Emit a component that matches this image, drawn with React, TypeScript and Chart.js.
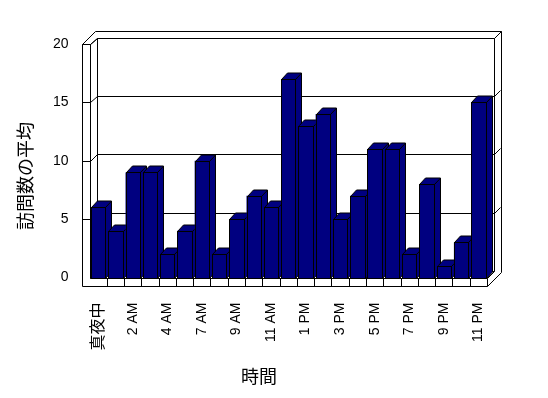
import React, { useEffect, useRef } from "react";
import { Chart, registerables } from "chart.js";

Chart.register(...registerables);

const categories = [
  "真夜中", "1 AM", "2 AM", "3 AM", "4 AM", "5 AM", "7 AM", "8 AM", "9 AM", "10 AM", "11 AM", "正午",
  "1 PM", "2 PM", "3 PM", "4 PM", "5 PM", "6 PM", "7 PM", "8 PM", "9 PM", "10 PM", "11 PM",
];
const visits = [6, 4, 9, 9, 2, 4, 10, 2, 5, 7, 6, 17, 13, 14, 5, 7, 11, 11, 2, 8, 1, 3, 15];
const yTicks = [0, 5, 10, 15, 20];
const yTitle = "訪問数の平均";
const xTitle = "時間";

const NAVY = "#000080";
const WALL_D = { x: 7, y: -6.5 };
const BAR_D = { x: 6, y: -6.5 };
const TH = 7;
const STRIP_W = 7.5;
const STRIP_H = 8.5;
const LABEL_FAMILY = '"Liberation Sans", "Noto Sans CJK JP", sans-serif';

function poly(ctx: CanvasRenderingContext2D, pts: number[][], fill?: string) {
  ctx.beginPath();
  ctx.moveTo(pts[0][0], pts[0][1]);
  for (let i = 1; i < pts.length; i++) ctx.lineTo(pts[i][0], pts[i][1]);
  ctx.closePath();
  if (fill) {
    ctx.fillStyle = fill;
    ctx.fill();
  }
  ctx.stroke();
}
function line(ctx: CanvasRenderingContext2D, pts: number[][]) {
  ctx.beginPath();
  ctx.moveTo(pts[0][0], pts[0][1]);
  for (let i = 1; i < pts.length; i++) ctx.lineTo(pts[i][0], pts[i][1]);
  ctx.stroke();
}

function barBox(el: any) {
  const { x, y, base, width } = el.getProps(["x", "y", "base", "width"], true);
  return {
    l: Math.round(x - width / 2) + 0.5,
    r: Math.round(x + width / 2) + 0.5,
    t: Math.round(y) + 0.5,
    b: Math.round(base) + 0.5,
  };
}

const frame3d = {
  id: "frame3d",
  beforeDatasetsDraw(chart: any) {
    const { ctx, chartArea, scales } = chart;
    const { left: L, right: R, top: T, bottom: B } = chartArea;
    const ys = scales.y;
    ctx.save();
    ctx.strokeStyle = "#000";
    ctx.lineWidth = 1;
    const s = (v: number) => Math.round(v) + 0.5;
    poly(ctx, [[s(L - STRIP_W), s(T)], [s(L), s(T)], [s(L), s(B)], [s(R), s(B)], [s(R), s(B + STRIP_H)], [s(L - STRIP_W), s(B + STRIP_H)]], "#fff");
    line(ctx, [[s(R), s(B)], [s(R + WALL_D.x), s(B + WALL_D.y)]]);
    line(ctx, [[s(R), s(B + STRIP_H)], [s(R + WALL_D.x + TH), s(B + STRIP_H - WALL_D.x - TH)]]);
    const bl = s(L + WALL_D.x), br = s(R + WALL_D.x);
    const bt = s(T + WALL_D.y), bb = s(B + WALL_D.y);
    line(ctx, [[bl, bb], [bl, bt], [br, bt], [br, bb]]);
    line(ctx, [[s(L), s(T)], [bl, bt]]);
    const ot = s(T + WALL_D.y - TH);
    line(ctx, [[s(L - STRIP_W), s(T)], [bl - 2, ot], [s(R + WALL_D.x + TH), ot], [s(R + WALL_D.x + TH), s(B + STRIP_H - WALL_D.x - TH)]]);
    line(ctx, [[br, bt], [s(R + WALL_D.x + TH), ot]]);
    for (const v of yTicks) {
      const yf = ys.getPixelForValue(v);
      const yb = s(yf + WALL_D.y);
      if (v !== 0) line(ctx, [[s(L - STRIP_W), s(yf)], [s(L), s(yf)]]);
      line(ctx, [[s(L), s(yf)], [bl, yb], [br, yb]]);
      if (v !== 0 && v !== 20) line(ctx, [[br, yb], [br + TH - 1, yb - TH + 1]]);
    }
    const n = categories.length;
    const slot = (R - L) / n;
    for (let i = 1; i < n; i++) {
      const xx = s(L + i * slot);
      line(ctx, [[xx, s(B)], [xx, s(B + STRIP_H)]]);
    }
    const meta = chart.getDatasetMeta(0);
    for (const el of meta.data) {
      const { l, r, t, b } = barBox(el);
      poly(ctx, [[r, t], [r + BAR_D.x, t + BAR_D.y], [r + BAR_D.x, b + BAR_D.y], [r, b]], NAVY);
      poly(ctx, [[l, t], [r, t], [r + BAR_D.x, t + BAR_D.y], [l + BAR_D.x, t + BAR_D.y]], NAVY);
    }
    ctx.restore();
  },
  afterDatasetsDraw(chart: any) {
    const { ctx } = chart;
    ctx.save();
    ctx.strokeStyle = "#000";
    ctx.lineWidth = 1;
    const meta = chart.getDatasetMeta(0);
    for (const el of meta.data) {
      const { l, r, t, b } = barBox(el);
      ctx.fillStyle = NAVY;
      ctx.fillRect(l, t, r - l, b - t);
      ctx.strokeRect(l, t, r - l, b - t);
    }
    ctx.restore();
  },
  afterDraw(chart: any) {
    const { ctx } = chart;
    ctx.save();
    ctx.fillStyle = "#000";
    ctx.font = '18px "Noto Sans CJK JP", sans-serif';
    ctx.textAlign = "center";
    ctx.textBaseline = "middle";
    ctx.fillText(xTitle, 259, 376);
    ctx.translate(25, 176);
    ctx.rotate(-Math.PI / 2);
    ctx.fillText(yTitle, 0, 0);
    ctx.restore();
  },
};

export default function App() {
  const ref = useRef<HTMLCanvasElement>(null);
  useEffect(() => {
    if (!ref.current) return;
    const chart = new Chart(ref.current, {
      type: "bar",
      data: {
        labels: categories,
        datasets: [
          {
            data: visits,
            backgroundColor: NAVY,
            borderWidth: 0,
            barPercentage: 0.83,
            categoryPercentage: 1,
          },
        ],
      },
      options: {
        animation: false,
        responsive: false,
        devicePixelRatio: 1,
        layout: { padding: { top: 44, right: 61, left: 0, bottom: 0 } },
        plugins: { legend: { display: false }, tooltip: { enabled: false } },
        scales: {
          x: {
            grid: { display: false, drawTicks: false },
            border: { display: false },
            afterFit: (sc: any) => {
              sc.height = 120.5;
            },
            ticks: {
              autoSkip: false,
              maxRotation: 90,
              minRotation: 90,
              padding: 25,
              color: "#000",
              font: (c: any) => ({ family: LABEL_FAMILY, size: c.index === 0 ? 16 : 14 }),
              callback: (_v: any, i: number) => (i % 2 === 0 ? categories[i] : ""),
            },
          },
          y: {
            min: 0,
            max: 20,
            grid: { display: false, drawTicks: false },
            border: { display: false },
            afterFit: (sc: any) => {
              sc.width = 89.5;
            },
            ticks: {
              stepSize: 5,
              padding: 21,
              color: "#000",
              font: { family: '"Liberation Sans", sans-serif', size: 14 },
            },
          },
        },
      },
      plugins: [frame3d],
    });
    return () => chart.destroy();
  }, []);
  return (
    <div style={{ position: "fixed", left: 0, top: 0, width: 548, height: 398, background: "#fff" }}>
      <canvas ref={ref} width={548} height={398} />
    </div>
  );
}
